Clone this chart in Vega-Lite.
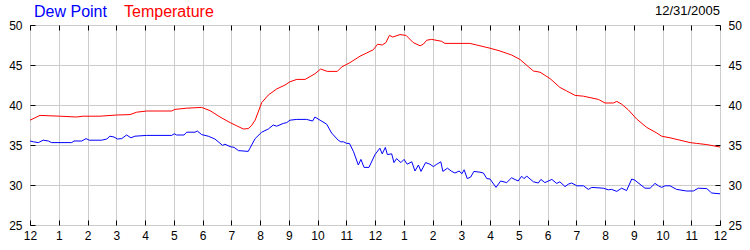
{
  "$schema": "https://vega.github.io/schema/vega-lite/v6.json",
  "width": 690,
  "height": 200,
  "autosize": "none",
  "padding": {"left": 30, "top": 25, "right": 30, "bottom": 25},
  "background": "white",
  "title": {"text": "12/31/2005", "anchor": "end", "frame": "group", "fontSize": 13, "fontWeight": "normal", "font": "Liberation Sans", "color": "black", "offset": -14},
  "config": {
    "view": {"stroke": "black", "strokeWidth": 1},
    "axis": {"labelFont": "Liberation Sans", "labelFontSize": 12, "labelColor": "black", "tickColor": "black", "tickSize": -5, "domain": false, "gridColor": "#CCCCCC", "gridWidth": 1, "title": null}
  },
  "datasets": {
    "temp": [
      {"hour": 0, "value": 38.1}, {"hour": 0.35, "value": 38.7}, {"hour": 1.04, "value": 38.6}, {"hour": 1.62, "value": 38.5}, {"hour": 1.85, "value": 38.6}, {"hour": 2.43, "value": 38.6}, {"hour": 3.02, "value": 38.75}, {"hour": 3.48, "value": 38.8}, {"hour": 3.71, "value": 39.1}, {"hour": 4.06, "value": 39.25}, {"hour": 4.93, "value": 39.25}, {"hour": 5.04, "value": 39.45}, {"hour": 5.45, "value": 39.6}, {"hour": 5.97, "value": 39.7}, {"hour": 6.26, "value": 39.3}, {"hour": 6.61, "value": 38.5}, {"hour": 6.96, "value": 37.8}, {"hour": 7.19, "value": 37.4}, {"hour": 7.42, "value": 37.0}, {"hour": 7.59, "value": 37.05}, {"hour": 7.7, "value": 37.4}, {"hour": 7.83, "value": 38.1}, {"hour": 8.06, "value": 40.3}, {"hour": 8.29, "value": 41.25}, {"hour": 8.58, "value": 42.0}, {"hour": 8.87, "value": 42.5}, {"hour": 9.04, "value": 42.9}, {"hour": 9.28, "value": 43.2}, {"hour": 9.57, "value": 43.2}, {"hour": 9.91, "value": 43.9}, {"hour": 10.11, "value": 44.5}, {"hour": 10.34, "value": 44.2}, {"hour": 10.69, "value": 44.2}, {"hour": 10.84, "value": 44.75}, {"hour": 11.13, "value": 45.3}, {"hour": 11.48, "value": 46.1}, {"hour": 11.94, "value": 46.9}, {"hour": 12.09, "value": 47.6}, {"hour": 12.25, "value": 47.5}, {"hour": 12.38, "value": 47.8}, {"hour": 12.5, "value": 48.7}, {"hour": 12.62, "value": 48.5}, {"hour": 12.87, "value": 48.8}, {"hour": 13.08, "value": 48.7}, {"hour": 13.33, "value": 47.8}, {"hour": 13.57, "value": 47.4}, {"hour": 13.68, "value": 47.6}, {"hour": 13.8, "value": 48.1}, {"hour": 13.97, "value": 48.2}, {"hour": 14.32, "value": 47.96}, {"hour": 14.43, "value": 47.7}, {"hour": 15.3, "value": 47.7}, {"hour": 15.54, "value": 47.5}, {"hour": 15.65, "value": 47.4}, {"hour": 16.0, "value": 47.1}, {"hour": 16.35, "value": 46.75}, {"hour": 16.75, "value": 46.25}, {"hour": 17.04, "value": 45.7}, {"hour": 17.33, "value": 44.8}, {"hour": 17.51, "value": 44.25}, {"hour": 17.74, "value": 44.1}, {"hour": 18.09, "value": 43.3}, {"hour": 18.43, "value": 42.2}, {"hour": 18.67, "value": 41.75}, {"hour": 18.96, "value": 41.2}, {"hour": 19.25, "value": 41.1}, {"hour": 19.77, "value": 40.7}, {"hour": 20.0, "value": 40.25}, {"hour": 20.29, "value": 40.25}, {"hour": 20.41, "value": 40.45}, {"hour": 20.58, "value": 40.1}, {"hour": 20.81, "value": 39.4}, {"hour": 21.1, "value": 38.25}, {"hour": 21.45, "value": 37.2}, {"hour": 21.8, "value": 36.5}, {"hour": 21.97, "value": 36.1}, {"hour": 22.26, "value": 35.9}, {"hour": 22.96, "value": 35.3}, {"hour": 23.19, "value": 35.2}, {"hour": 23.54, "value": 35.05}, {"hour": 24, "value": 34.75}
    ],
    "dew": [
      {"hour": 0, "value": 35.5}, {"hour": 0.12, "value": 35.4}, {"hour": 0.29, "value": 35.3}, {"hour": 0.46, "value": 35.6}, {"hour": 0.64, "value": 35.5}, {"hour": 0.75, "value": 35.3}, {"hour": 1.45, "value": 35.3}, {"hour": 1.53, "value": 35.5}, {"hour": 1.8, "value": 35.5}, {"hour": 1.95, "value": 35.8}, {"hour": 2.06, "value": 35.6}, {"hour": 2.49, "value": 35.6}, {"hour": 2.67, "value": 35.75}, {"hour": 2.78, "value": 36.1}, {"hour": 2.92, "value": 36.0}, {"hour": 3.04, "value": 35.75}, {"hour": 3.19, "value": 35.8}, {"hour": 3.36, "value": 36.25}, {"hour": 3.51, "value": 35.9}, {"hour": 3.65, "value": 36.1}, {"hour": 4.06, "value": 36.2}, {"hour": 4.93, "value": 36.2}, {"hour": 5.02, "value": 36.4}, {"hour": 5.1, "value": 36.25}, {"hour": 5.36, "value": 36.25}, {"hour": 5.45, "value": 36.6}, {"hour": 5.74, "value": 36.6}, {"hour": 5.82, "value": 36.75}, {"hour": 5.97, "value": 36.3}, {"hour": 6.2, "value": 36.1}, {"hour": 6.43, "value": 35.75}, {"hour": 6.7, "value": 34.95}, {"hour": 6.78, "value": 35.1}, {"hour": 6.96, "value": 34.8}, {"hour": 7.1, "value": 34.7}, {"hour": 7.25, "value": 34.3}, {"hour": 7.59, "value": 34.2}, {"hour": 7.65, "value": 34.6}, {"hour": 7.83, "value": 35.8}, {"hour": 8.06, "value": 36.6}, {"hour": 8.29, "value": 37.0}, {"hour": 8.46, "value": 37.5}, {"hour": 8.58, "value": 37.35}, {"hour": 8.81, "value": 37.7}, {"hour": 8.93, "value": 37.8}, {"hour": 9.04, "value": 38.1}, {"hour": 9.28, "value": 38.2}, {"hour": 9.62, "value": 38.2}, {"hour": 9.83, "value": 38.0}, {"hour": 9.91, "value": 38.5}, {"hour": 10.09, "value": 38.1}, {"hour": 10.32, "value": 37.6}, {"hour": 10.49, "value": 36.5}, {"hour": 10.72, "value": 35.6}, {"hour": 10.81, "value": 35.4}, {"hour": 10.9, "value": 35.4}, {"hour": 11.02, "value": 35.2}, {"hour": 11.11, "value": 35.2}, {"hour": 11.25, "value": 34.2}, {"hour": 11.42, "value": 32.5}, {"hour": 11.51, "value": 33.2}, {"hour": 11.62, "value": 32.2}, {"hour": 11.79, "value": 32.2}, {"hour": 12.0, "value": 33.8}, {"hour": 12.17, "value": 34.6}, {"hour": 12.25, "value": 33.9}, {"hour": 12.36, "value": 34.7}, {"hour": 12.43, "value": 33.8}, {"hour": 12.58, "value": 33.9}, {"hour": 12.66, "value": 32.8}, {"hour": 12.75, "value": 33.3}, {"hour": 12.9, "value": 32.8}, {"hour": 13.01, "value": 33.2}, {"hour": 13.12, "value": 32.6}, {"hour": 13.28, "value": 32.9}, {"hour": 13.39, "value": 31.75}, {"hour": 13.51, "value": 32.5}, {"hour": 13.6, "value": 31.7}, {"hour": 13.76, "value": 32.8}, {"hour": 13.91, "value": 32.6}, {"hour": 14.03, "value": 32.3}, {"hour": 14.15, "value": 32.6}, {"hour": 14.29, "value": 32.9}, {"hour": 14.36, "value": 31.7}, {"hour": 14.52, "value": 32.1}, {"hour": 14.67, "value": 31.7}, {"hour": 14.78, "value": 31.5}, {"hour": 14.93, "value": 31.75}, {"hour": 15.02, "value": 31.4}, {"hour": 15.1, "value": 31.9}, {"hour": 15.21, "value": 30.8}, {"hour": 15.33, "value": 31.0}, {"hour": 15.44, "value": 31.7}, {"hour": 15.65, "value": 31.6}, {"hour": 15.77, "value": 31.5}, {"hour": 15.89, "value": 30.8}, {"hour": 16.0, "value": 30.75}, {"hour": 16.21, "value": 29.7}, {"hour": 16.37, "value": 30.5}, {"hour": 16.58, "value": 30.3}, {"hour": 16.75, "value": 30.9}, {"hour": 16.98, "value": 30.5}, {"hour": 17.1, "value": 31.1}, {"hour": 17.18, "value": 30.8}, {"hour": 17.28, "value": 31.1}, {"hour": 17.51, "value": 30.4}, {"hour": 17.68, "value": 30.25}, {"hour": 17.77, "value": 30.7}, {"hour": 17.91, "value": 30.3}, {"hour": 18.15, "value": 30.7}, {"hour": 18.32, "value": 30.2}, {"hour": 18.43, "value": 30.4}, {"hour": 18.61, "value": 29.8}, {"hour": 18.72, "value": 30.1}, {"hour": 18.84, "value": 30.25}, {"hour": 19.02, "value": 29.9}, {"hour": 19.25, "value": 29.9}, {"hour": 19.42, "value": 29.45}, {"hour": 19.54, "value": 29.7}, {"hour": 19.94, "value": 29.6}, {"hour": 20.12, "value": 29.4}, {"hour": 20.23, "value": 29.45}, {"hour": 20.41, "value": 29.2}, {"hour": 20.58, "value": 29.6}, {"hour": 20.75, "value": 29.3}, {"hour": 20.93, "value": 30.75}, {"hour": 21.04, "value": 30.6}, {"hour": 21.39, "value": 29.6}, {"hour": 21.57, "value": 29.6}, {"hour": 21.74, "value": 30.2}, {"hour": 21.86, "value": 29.9}, {"hour": 21.97, "value": 29.7}, {"hour": 22.09, "value": 29.9}, {"hour": 22.26, "value": 29.9}, {"hour": 22.49, "value": 29.45}, {"hour": 22.84, "value": 29.25}, {"hour": 23.07, "value": 29.25}, {"hour": 23.25, "value": 29.6}, {"hour": 23.54, "value": 29.55}, {"hour": 23.71, "value": 29.0}, {"hour": 24, "value": 28.9}
    ]
  },
  "layer": [
    {
      "data": {"name": "temp"},
      "mark": {"type": "line", "strokeWidth": 1, "interpolate": "linear"},
      "encoding": {
        "x": {"field": "hour", "type": "quantitative", "scale": {"domain": [0, 24], "nice": false},
              "axis": {"orient": "bottom", "values": [0,1,2,3,4,5,6,7,8,9,10,11,12,13,14,15,16,17,18,19,20,21,22,23,24], "labelExpr": "datum.value % 12 == 0 ? '12' : '' + (datum.value % 12)", "labelPadding": 10, "labelFlush": false, "grid": true}},
        "y": {"field": "value", "type": "quantitative", "scale": {"domain": [25, 50], "nice": false},
              "axis": {"orient": "left", "values": [25, 30, 35, 40, 45, 50], "labelPadding": 13, "grid": true}},
        "color": {"datum": "Temperature", "type": "nominal",
                  "scale": {"domain": ["Dew Point", "Temperature"], "range": ["#0000FF", "#FF0000"]},
                  "legend": {"orient": "none", "legendX": -12, "legendY": -21, "direction": "horizontal", "title": null,
                             "symbolSize": 0, "symbolOpacity": 0, "symbolStrokeWidth": 0, "labelOffset": 0, "columnPadding": 1,
                             "labelFont": "Liberation Sans", "labelFontSize": 16,
                             "encode": {"labels": {"update": {"fill": {"scale": "color", "field": "value"}}}}}}
      }
    },
    {
      "data": {"name": "dew"},
      "mark": {"type": "line", "strokeWidth": 1, "interpolate": "linear"},
      "encoding": {
        "x": {"field": "hour", "type": "quantitative",
              "axis": {"orient": "top", "values": [0,1,2,3,4,5,6,7,8,9,10,11,12,13,14,15,16,17,18,19,20,21,22,23,24], "labels": false, "grid": false}},
        "y": {"field": "value", "type": "quantitative",
              "axis": {"orient": "right", "values": [25, 30, 35, 40, 45, 50], "labelPadding": 13, "grid": false}},
        "color": {"datum": "Dew Point", "type": "nominal"}
      }
    }
  ]
}
